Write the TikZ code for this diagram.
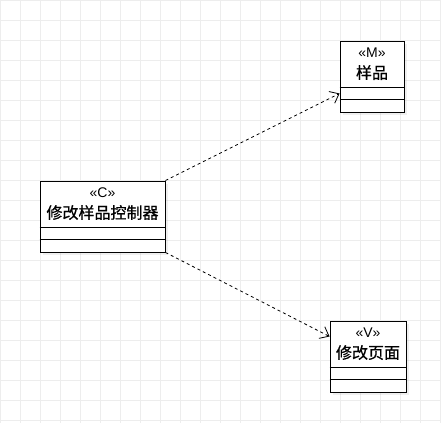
\documentclass[tikz,border=0pt]{standalone}
\usepackage{fontspec}
\newfontfamily\cjk[FakeBold=0.8]{Noto Sans CJK SC}
\newfontfamily\lat{Liberation Sans}
\usetikzlibrary{arrows.meta,shadows}
\tikzset{
    classbox/.style={draw=black, fill=white, line width=0.9pt, minimum height=71pt,
        inner sep=0pt, drop shadow={shadow xshift=3pt, shadow yshift=-3pt, opacity=0.12}},
    stereo/.style={font=\lat\fontsize{14}{14}\selectfont},
    cname/.style={font=\cjk\fontsize{16}{16}\selectfont},
    dep/.style={dashed, dash pattern=on 3pt off 3pt, line width=0.8pt,
        -{Straight Barb[length=8pt,width=13pt,line width=0.8pt]}}
}
\begin{document}
\begin{tikzpicture}[x=1pt, y=-1pt]
    \useasboundingbox (0,0) rectangle (441,423);
    \fill[white] (0,0) rectangle (441,423);
    % background grid
    \foreach \gx in {0,20,...,440}
        \draw[color=black!7, line width=0.8pt] (\gx+0.5,0) -- (\gx+0.5,423);
    \foreach \gy in {0,20,...,420}
        \draw[color=black!7, line width=0.8pt] (0,\gy+0.5) -- (441,\gy+0.5);
    % classes
    \node[classbox, minimum width=125pt] (ctrl) at (102.5,216.5) {};
    \node[classbox, minimum width=64pt] (model) at (372,76.5) {};
    \node[classbox, minimum width=76pt] (view) at (368,356.5) {};
    \foreach \c in {ctrl, model, view} {
        \draw[line width=0.9pt] ([yshift=-47pt]\c.north west) -- ([yshift=-47pt]\c.north east);
        \draw[line width=0.9pt] ([yshift=-59pt]\c.north west) -- ([yshift=-59pt]\c.north east);
    }
    \node[stereo] (ctrlS) at ([yshift=-12pt]ctrl.north) {«C»};
    \node[cname] (ctrlN) at ([yshift=-32pt]ctrl.north) {修改样品控制器};
    \node[stereo] (modelS) at ([yshift=-12pt]model.north) {«M»};
    \node[cname] (modelN) at ([yshift=-32pt]model.north) {样品};
    \node[stereo] (viewS) at ([yshift=-12pt]view.north) {«V»};
    \node[cname] (viewN) at ([yshift=-32pt]view.north) {修改页面};
    % dependencies
    \draw[dep] (ctrl.north east) -- ([yshift=-17pt]model.west);
    \draw[dep] (ctrl.south east) -- ([yshift=20pt]view.west);
\end{tikzpicture}
\end{document}
